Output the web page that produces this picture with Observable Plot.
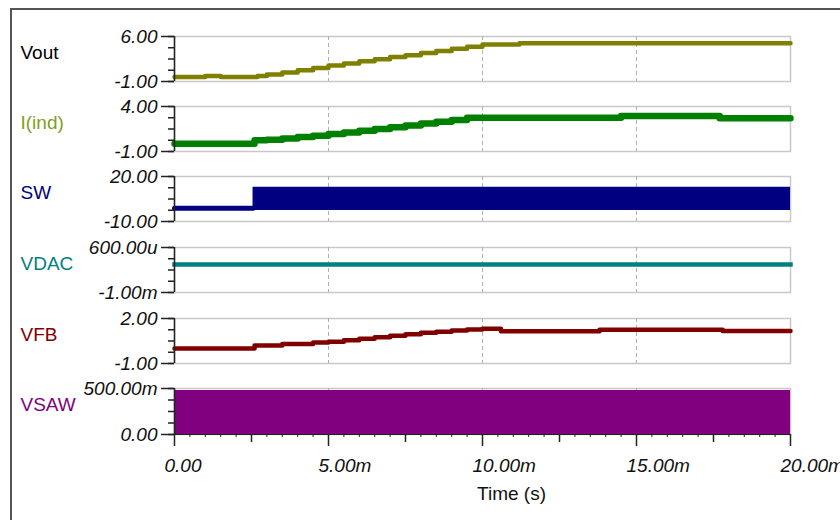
<!DOCTYPE html>
<html>
<head>
<meta charset="utf-8">
<script src="https://cdn.jsdelivr.net/npm/d3@7"></script>
<script src="https://cdn.jsdelivr.net/npm/@observablehq/plot@0.6"></script>
<style>
  body { margin: 0; background: #fff; }
  #chart { position: relative; width: 840px; height: 520px; overflow: hidden; background: #fff;
           font-family: "Liberation Sans", Arial, sans-serif; }
  #border { position: absolute; left: 10px; top: 8px; width: 900px; height: 600px;
            border-left: 2px solid #555; border-top: 2px solid #555; }
  .panel { position: absolute; left: 0; }
  .panel svg { overflow: visible; }
  .panel g[aria-label="y-axis tick label"] text { font-style: italic; }
</style>
</head>
<body>
<div id="chart"><div id="border"></div></div>
<script>
// ---------- data ----------
const timeTicks = [0, 5, 10, 15, 20];                 // ms
const timeTickLabels = ["0.00", "5.00m", "10.00m", "15.00m", "20.00m"];
const timeMidTicks = [2.5, 7.5, 12.5, 17.5];
const gridTicks = [5, 10, 15];

const seriesNames = ["Vout", "I(ind)", "SW", "VDAC", "VFB", "VSAW"];
const seriesColors = ["#808000", "#008000", "#000080", "#008080", "#800000", "#800080"];
const labelColors = ["#000000", "#7f9f1f", "#000080", "#008080", "#800000", "#800080"];
const yMin = [-1, -1, -10, -1e-3, -1, 0];
const yMax = [6, 4, 20, 600e-6, 2, 0.5];
const yMinLabels = ["-1.00", "-1.00", "-10.00", "-1.00m", "-1.00", "0.00"];
const yMaxLabels = ["6.00", "4.00", "20.00", "600.00u", "2.00", "500.00m"];

const voutT = [0, 1.0, 1.5, 2.7, 3.0, 3.5, 4.0, 4.5, 5.0, 5.5, 6.0, 6.5, 7.0, 7.5, 8.0, 8.5, 9.0, 9.5, 10.0, 11.2, 20];
const voutV = [-0.3, -0.15, -0.3, -0.15, 0.1, 0.4, 0.75, 1.1, 1.5, 1.8, 2.15, 2.45, 2.8, 3.1, 3.45, 3.75, 4.1, 4.4, 4.75, 4.95, 4.95];

const iindT = [0, 2.6, 3.0, 3.5, 4.0, 4.5, 5.0, 5.5, 6.0, 6.5, 7.0, 7.5, 8.0, 8.5, 9.0, 9.5, 10.0, 14.5, 17.7, 20];
const iindV = [-0.15, 0.25, 0.3, 0.45, 0.6, 0.75, 0.95, 1.1, 1.3, 1.5, 1.7, 1.9, 2.1, 2.3, 2.5, 2.75, 2.75, 2.95, 2.7, 2.7];

const swLowT = [0, 2.55];
const swLowV = [-1.1, -1.1];
const swBandT = [2.55, 20];
const swBandLo = [-2.7, -2.7];
const swBandHi = [12.9, 12.9];

const vdacT = [0, 20];
const vdacV = [0, 0];

const vfbT = [0, 2.6, 3.5, 4.5, 5.0, 5.5, 6.0, 6.5, 7.0, 7.5, 8.0, 8.5, 9.0, 9.5, 10.0, 10.6, 13.8, 17.8, 20];
const vfbV = [0, 0.2, 0.3, 0.4, 0.45, 0.55, 0.65, 0.75, 0.85, 0.95, 1.05, 1.12, 1.2, 1.27, 1.32, 1.15, 1.25, 1.17, 1.17];

const vsawT = [0, 20];
const vsawLo = [0, 0];
const vsawHi = [0.478, 0.478];

// ---------- layout ----------
const panelTops = [36, 106, 176, 247, 318, 388];
const panelHeights = [45, 45, 45, 45, 45, 46];
const FONT = "Liberation Sans, Arial, sans-serif";

function seriesMarks(i) {
  const c = seriesColors[i];
  switch (i) {
    case 0: return [Plot.line(voutV, {x: voutT, y: voutV, stroke: c, strokeWidth: 4.5, curve: "step-after"})];
    case 1: return [Plot.line(iindV, {x: iindT, y: iindV, stroke: c, strokeWidth: 6.5, curve: "step-after"})];
    case 2: return [
      Plot.line(swLowV, {x: swLowT, y: swLowV, stroke: c, strokeWidth: 5}),
      Plot.areaY(swBandT, {x: swBandT, y1: swBandLo, y2: swBandHi, fill: c})
    ];
    case 3: return [Plot.line(vdacV, {x: vdacT, y: vdacV, stroke: c, strokeWidth: 4.5, strokeLinecap: "square"})];
    case 4: return [Plot.line(vfbV, {x: vfbT, y: vfbV, stroke: c, strokeWidth: 4.5, curve: "step-after"})];
    case 5: return [Plot.areaY(vsawT, {x: vsawT, y1: vsawLo, y2: vsawHi, fill: c})];
  }
}

const chart = document.getElementById("chart");
for (let i = 0; i < 6; i++) {
  const top = panelTops[i], h = panelHeights[i];
  const isLast = i === 5;
  const mt = 14;
  const mb = isLast ? 520 - top - h : 14;
  const lo = yMin[i], hi = yMax[i];
  const minor = d3.range(5).map(k => lo + (hi - lo) * k / 4);
  const marks = [
    Plot.frame({stroke: "#c8c8c8", strokeWidth: 1.5}),
    Plot.ruleX(gridTicks, {stroke: "#b0b0b0", strokeDasharray: "4,3", strokeWidth: 1}),
    ...seriesMarks(i),
    Plot.axisY(minor, {tickSize: 6, tickFormat: () => "", stroke: "#222", strokeWidth: 1.5, label: null}),
    Plot.axisY([lo, hi], {tickSize: 13, tickPadding: 4, stroke: "#222", strokeWidth: 1.5, label: null,
      tickFormat: d => d === lo ? yMinLabels[i] : yMaxLabels[i],
      fontStyle: "italic", fontSize: 19, fill: "#111"}),
    Plot.ruleX([timeTicks[0]], {stroke: "#222", strokeWidth: 1.5}),
    Plot.text([seriesNames[i]], {frameAnchor: "top-left", dx: -154, dy: 16, textAnchor: "start",
      lineAnchor: "middle", fill: labelColors[i], fontSize: 19})
  ];
  if (isLast) {
    marks.push(
      Plot.ruleY([lo], {stroke: "#222", strokeWidth: 1}),
      Plot.axisX(d3.range(0, 20.01, 0.5), {tickSize: 3, tickFormat: () => "", stroke: "#222", label: null}),
      Plot.axisX(timeMidTicks, {tickSize: 8, tickFormat: () => "", stroke: "#222", strokeWidth: 1.5, label: null}),
      Plot.axisX(timeTicks, {tickSize: 12, tickFormat: () => "", stroke: "#222", strokeWidth: 1.5, label: null}),
      Plot.text(timeTickLabels, {x: timeTicks, frameAnchor: "bottom", textAnchor: "start", dx: -10,
        dy: 31, lineAnchor: "middle", fontStyle: "italic", fontSize: 19, fill: "#111"}),
      Plot.text(["Time (s)"], {frameAnchor: "bottom", dx: 29, dy: 59, lineAnchor: "middle",
        fontSize: 19, fill: "#111"})
    );
  }
  const svg = Plot.plot({
    width: 840, height: mt + h + mb,
    marginLeft: 174, marginRight: 50, marginTop: mt, marginBottom: mb,
    x: {domain: [timeTicks[0], timeTicks[timeTicks.length - 1]], axis: null},
    y: {domain: [lo, hi], axis: null},
    style: {fontFamily: FONT, fontSize: "19px", background: "transparent", color: "#111", overflow: "visible"},
    marks
  });
  const wrap = document.createElement("div");
  wrap.className = "panel";
  wrap.style.top = (top - mt) + "px";
  wrap.appendChild(svg);
  chart.appendChild(wrap);
}
</script>
</body>
</html>
